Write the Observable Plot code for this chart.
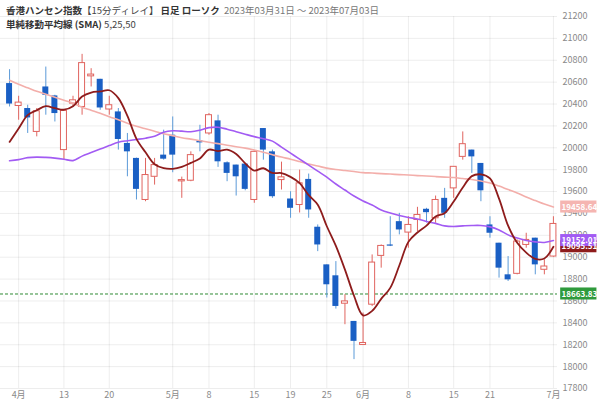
<!DOCTYPE html>
<html><head><meta charset="utf-8">
<script src="https://cdn.jsdelivr.net/npm/d3@7"></script>
<script src="https://cdn.jsdelivr.net/npm/@observablehq/plot@0.6"></script>
<style>
body{margin:0;background:#fff;}
#wrap{position:relative;width:600px;height:403px;overflow:hidden;font-family:"Noto Sans CJK JP","Noto Sans",sans-serif;}
#title{position:absolute;left:6px;top:3px;font-size:9.5px;line-height:14px;color:#333;white-space:nowrap;}
#title b{font-weight:bold;color:#333;}
#title .n{font-weight:normal;color:#444;}
#title .d{color:#777;font-weight:normal;}
</style></head><body>
<div id="wrap"><div id="chart"></div>
<div id="title"><b>香港ハンセン指数</b><span class="n">【15分ディレイ】</span> <b>日足 ローソク</b>&nbsp;&nbsp;<span class="d">2023年03月31日 ～ 2023年07月03日</span><br><b>単純移動平均線 (SMA)</b> <span class="n">5,25,50</span></div>
</div>
<script>
const opens=[20587,20382,20359,20145,20556,20474,19979,20404,20373,20653,
20626,20350,20328,20040,19903,19523,19735,19933,20115,19693,
19699,20063,20131,20246,19863,19842,19851,19523,20176,19963,
19705,19532,19477,19711,19274,18930,18830,18575,18413,18198,
18566,19012,19112,19325,19225,19340,19438,19356,19538,19629,
19917,19979,19857,19295,19128,18839,18848,19112,19174,18885,
19006];
const highs=[20714,20471,20389,20359,20738,20480,20345,20471,20854,20723,
20626,20471,20359,20131,19906,19903,19903,20161,20282,19732,
19963,20206,20313,20298,19872,19842,19851,19972,20176,19979,
19869,19598,19796,19760,19295,18930,18960,18657,18413,18490,
19021,19112,19370,19401,19370,19456,19447,19559,19629,19826,
20145,19979,19857,19370,19128,19006,19158,19219,19174,18976,
19370];
const lows=[20373,20252,20131,20100,20298,20236,19887,20373,20298,20556,
20343,20298,19979,19735,19523,19507,19659,19887,19772,19538,
19690,19963,20115,19821,19690,19559,19607,19493,19887,19538,
19614,19356,19404,19356,19051,18627,18526,18383,18064,18198,
18550,18900,19097,19204,19082,19234,19313,19310,19356,19538,
19887,19766,19507,19174,18809,18778,18839,19082,18839,18839,
19000];
const closes=[20400,20413,20273,20334,20480,20313,20337,20434,20774,20669,
20364,20389,20076,19963,19620,19751,19842,19896,19933,19705,
19933,20045,20298,19872,19766,19735,19620,19963,19979,19553,
19730,19447,19675,19432,19112,18748,18550,18596,18231,18216,
18951,19103,19101,19249,19295,19386,19407,19523,19401,19826,
20033,19917,19607,19219,18900,18793,19143,19158,18930,18915,
19304];
const sma5=[20054,20176,20298,20343,20380,20362,20348,20380,20468,20505,
20515,20526,20454,20292,20082,19959,19850,19814,19808,19825,
19862,19903,19983,19970,19983,19943,19858,19792,19813,19770,
19769,19734,19677,19567,19479,19283,19103,18887,18648,18468,
18509,18619,18720,18924,19140,19226,19288,19372,19402,19509,
19638,19741,19757,19720,19535,19288,19132,19042,18985,18988,
19095.51];
const sma25=[19881,19892,19910,19915,19912,19906,19896,19883,19924,19956,
19988,20020,20051,20065,20076,20088,20106,20143,20156,20152,
20147,20161,20184,20188,20170,20147,20124,20102,20083,20061,
20006,19951,19896,19842,19787,19732,19669,19614,19559,19514,
19477,19432,19404,19381,19363,19350,19327,19309,19286,19281,
19286,19290,19290,19277,19249,19204,19176,19153,19140,19135,
19152.01];
const sma50=[20617,20580,20548,20516,20489,20462,20434,20407,20370,20343,
20316,20284,20257,20225,20197,20174,20152,20129,20111,20092,
20079,20065,20051,20038,20024,20010,19997,19979,19960,19937,
19915,19896,19874,19851,19833,19814,19801,19792,19783,19773,
19769,19764,19760,19755,19751,19746,19742,19737,19732,19728,
19719,19710,19696,19678,19650,19618,19587,19550,19518,19486,
19458.64];
const tickIdx=[1,6,11,18,22,27,31,35,39,44,49,53,60];
const tickLabels=["4月","13","20","5月","8","15","19","25","6月","8","15","21","7月"];
const yTicks=d3.range(17800,21201,200);
const refLine=18663.83;
const labelValues=[19458.64,19095.51,19152.01,18663.83];
const labelColors=["#f5b5b1","#8e1c1c","#a25bf3","#2f9a3c"];

const candles=opens.map((o,i)=>({i,o,h:highs[i],l:lows[i],c:closes[i]}));
const up=candles.filter(d=>d.c>=d.o), down=candles.filter(d=>d.c<d.o);
const line=arr=>arr.map((v,i)=>({i,v}));
const labelMap=new Map(tickIdx.map((d,k)=>[d,tickLabels[k]]));
const xMax=60.45, hw=0.33;
const labels=labelValues.map((v,k)=>({v,color:labelColors[k]}));
const RED="#e0645f", BLUE="#1a5fc4", LBLUE="#5b9ad8";

const chart=Plot.plot({
  width:600,height:403,marginLeft:0,marginRight:43,marginTop:16,marginBottom:15,
  style:{fontFamily:'"Noto Sans CJK JP","Noto Sans",sans-serif',background:"#fff"},
  x:{type:"linear",domain:[-1,xMax],axis:null},
  y:{domain:[17800,21200],axis:null},
  marks:[
    Plot.gridY(yTicks,{stroke:"#000",strokeOpacity:0.07}),
    Plot.gridX(tickIdx,{stroke:"#000",strokeOpacity:0.07}),
    Plot.axisY(yTicks,{anchor:"right",tickSize:0,tickPadding:5,fontSize:9,fill:"#8a8a8a",tickFormat:d=>String(d),label:null}),
    Plot.axisX(tickIdx,{anchor:"bottom",tickSize:0,tickPadding:3,fontSize:9,fill:"#8a8a8a",tickFormat:d=>labelMap.get(d),label:null}),
    Plot.ruleY([refLine],{stroke:"#2f8a35",strokeDasharray:"3,2",strokeWidth:1}),
    Plot.ruleX(up,{x:"i",y1:"l",y2:"h",stroke:RED,strokeWidth:1}),
    Plot.ruleX(down,{x:"i",y1:"l",y2:"h",stroke:LBLUE,strokeWidth:1}),
    Plot.rect(up,{x1:d=>d.i-hw,x2:d=>d.i+hw,y1:"o",y2:"c",fill:"#fff",stroke:RED,strokeWidth:1}),
    Plot.rect(down,{x1:d=>d.i-hw,x2:d=>d.i+hw,y1:"o",y2:"c",fill:BLUE}),
    Plot.line(line(sma50),{x:"i",y:"v",stroke:"#f3aeaa",strokeWidth:1.6,curve:"catmull-rom"}),
    Plot.line(line(sma25),{x:"i",y:"v",stroke:"#a25bf3",strokeWidth:1.6,curve:"catmull-rom"}),
    Plot.line(line(sma5),{x:"i",y:"v",stroke:"#8e1c1c",strokeWidth:1.8,curve:"catmull-rom"}),
    Plot.rect(labels,{x1:xMax+0.35,x2:xMax+4.35,y1:d=>d.v-55,y2:d=>d.v+55,fill:"color",clip:false}),
    Plot.text(labels,{x:xMax+0.45,y:"v",text:d=>d.v.toFixed(2),fill:"#fff",textAnchor:"start",fontSize:8,fontWeight:"bold",clip:false})
  ]
});
document.getElementById("chart").appendChild(chart);
</script>
</body></html>
